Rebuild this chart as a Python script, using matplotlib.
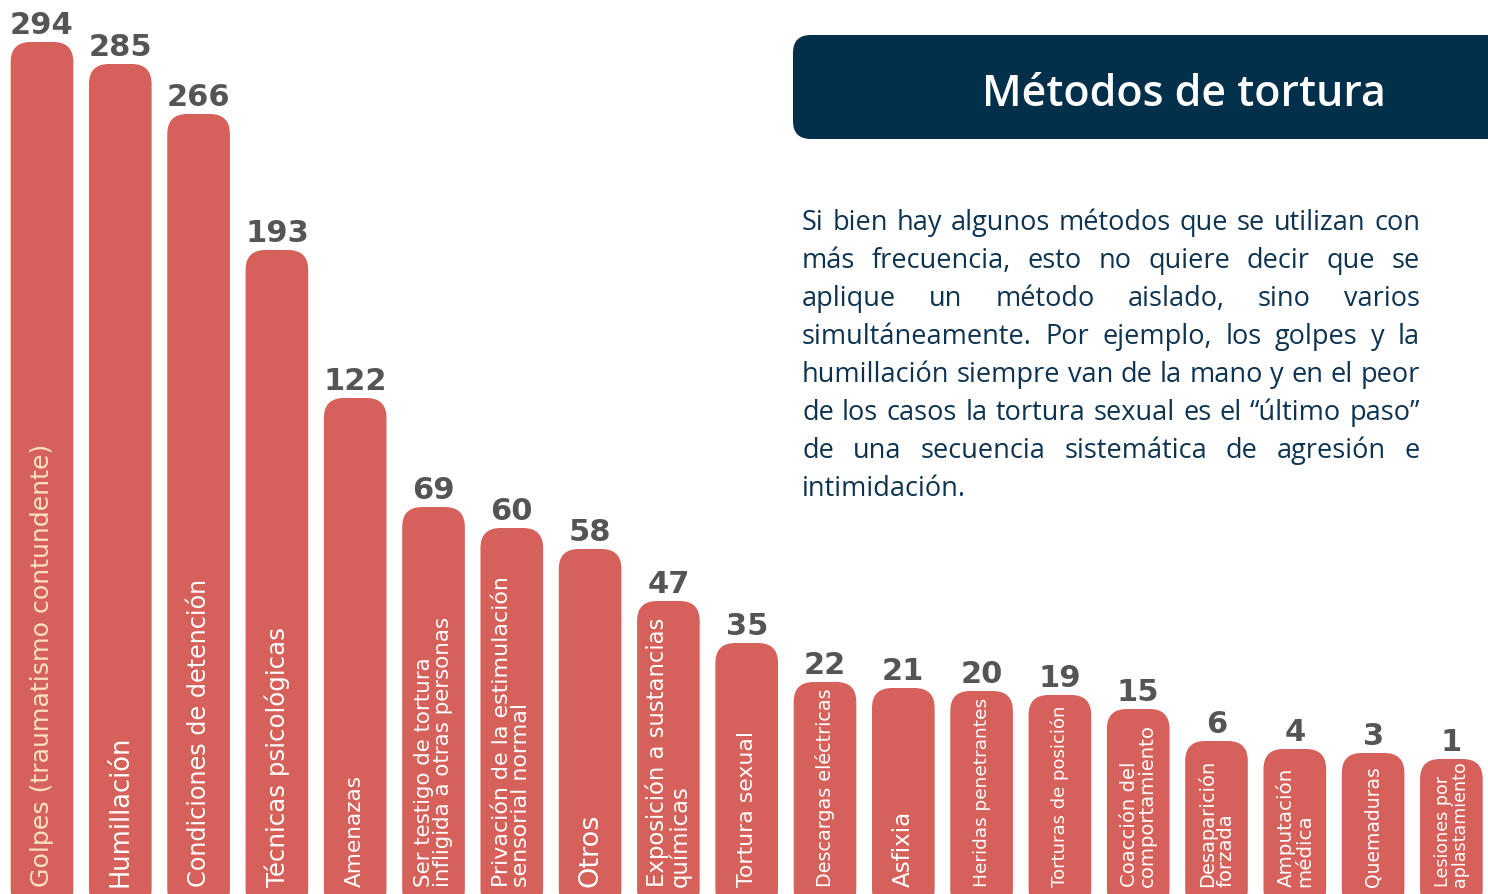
import matplotlib
matplotlib.use("Agg")
import matplotlib.pyplot as plt
from matplotlib.patches import FancyBboxPatch

# Datos del gráfico
categories = [
    "Golpes (traumatismo contundente)",
    "Humillación",
    "Condiciones de detención",
    "Técnicas psicológicas",
    "Amenazas",
    "Ser testigo de tortura\ninfligida a otras personas",
    "Privación de la estimulación\nsensorial normal",
    "Otros",
    "Exposición a sustancias\nquímicas",
    "Tortura sexual",
    "Descargas eléctricas",
    "Asfixia",
    "Heridas penetrantes",
    "Torturas de posición",
    "Coacción del\ncomportamiento",
    "Desaparición\nforzada",
    "Amputación\nmédica",
    "Quemaduras",
    "Lesiones por\naplastamiento",
]
counts = [294, 285, 266, 193, 122, 69, 60, 58, 47, 35, 22, 21, 20, 19, 15, 6, 4, 3, 1]
# longitud visual de cada barra (no es proporcional al valor en el original)
bar_heights = [852, 830, 780, 644, 496, 387, 366, 345, 293, 251,
               212, 206, 203, 199, 185, 153, 145, 141, 135]

title = "Métodos de tortura"
paragraph = [
    "Si bien hay algunos métodos que se utilizan con",
    "más frecuencia, esto no quiere decir que se",
    "aplique un método aislado, sino varios",
    "simultáneamente. Por ejemplo, los golpes y la",
    "humillación siempre van de la mano y en el peor",
    "de los casos la tortura sexual es el “último paso”",
    "de una secuencia sistemática de agresión e",
    "intimidación.",
]

# estilos
BAR_COLOR = "#D6605A"
NAVY = "#022F4A"
TEXT_NAVY = "#0D3350"
NUM_GRAY = "#555555"
label_sizes = [18.2, 18.5, 17.2, 17.6, 15.6, 15.4, 15.9, 19.5, 16.4, 15.8,
               13.8, 16.6, 13.3, 13.0, 14.1, 14.0, 14.3, 13.5, 12.6]
label_colors = ["#FBE3BE"] + ["white"] * (len(categories) - 1)

W, H = 1488, 895
fig = plt.figure(figsize=(W / 100, H / 100), dpi=100)
fig.patch.set_facecolor("white")
ax = fig.add_axes([0, 0, 1, 1])
ax.set_axis_off()

step = 78.3
x0 = -42 / step
ax.set_xlim(x0, x0 + W / step)
ax.set_ylim(0, H)

bw = 0.8
rad = 20 / step
for i, (h, v) in enumerate(zip(bar_heights, counts)):
    p = FancyBboxPatch((i - bw / 2, -15), bw, h + 15,
                       boxstyle=f"round,pad=0,rounding_size={rad}",
                       mutation_aspect=step, facecolor=BAR_COLOR,
                       edgecolor="none")
    ax.add_patch(p)
    ax.text(i, h + 3, str(v), ha="center", va="bottom", fontsize=22,
            fontweight="bold", color=NUM_GRAY, family="DejaVu Sans")
    ax.text(i, 8, categories[i], rotation=90, ha="center", va="bottom",
            fontsize=label_sizes[i], color=label_colors[i],
            family="DejaVu Sans", linespacing=0.95, multialignment="left")

# caja del título
box = FancyBboxPatch((793 / W, 1 - 140 / H), 800 / W, 104 / H,
                     boxstyle="round,pad=0,rounding_size=0.012",
                     mutation_aspect=W / H, transform=fig.transFigure,
                     facecolor=NAVY, edgecolor="none")
fig.patches.append(box)
fig.text(1184 / W, 1 - 106 / H, title, ha="center", va="baseline",
         fontsize=31, fontweight="semibold", color="white", family="Open Sans")

# párrafo justificado
renderer = fig.canvas.get_renderer()
left, right = 802, 1420
fs = 19.5
for k, line in enumerate(paragraph):
    yb = 1 - (230 + 38 * k) / H
    words = line.split(" ")
    arts = [fig.text(0, yb, w, ha="left", va="baseline", fontsize=fs,
                     color=TEXT_NAVY, family="Open Sans") for w in words]
    widths = [a.get_window_extent(renderer).width for a in arts]
    last = k == len(paragraph) - 1
    if last or len(words) == 1:
        gap = fs * 100 / 72 * 0.26
    else:
        gap = (right - left - sum(widths)) / (len(words) - 1)
    x = left
    for a, wd in zip(arts, widths):
        a.set_x(x / W)
        x += wd + gap

fig.savefig("out.png", dpi=100, facecolor="white")
